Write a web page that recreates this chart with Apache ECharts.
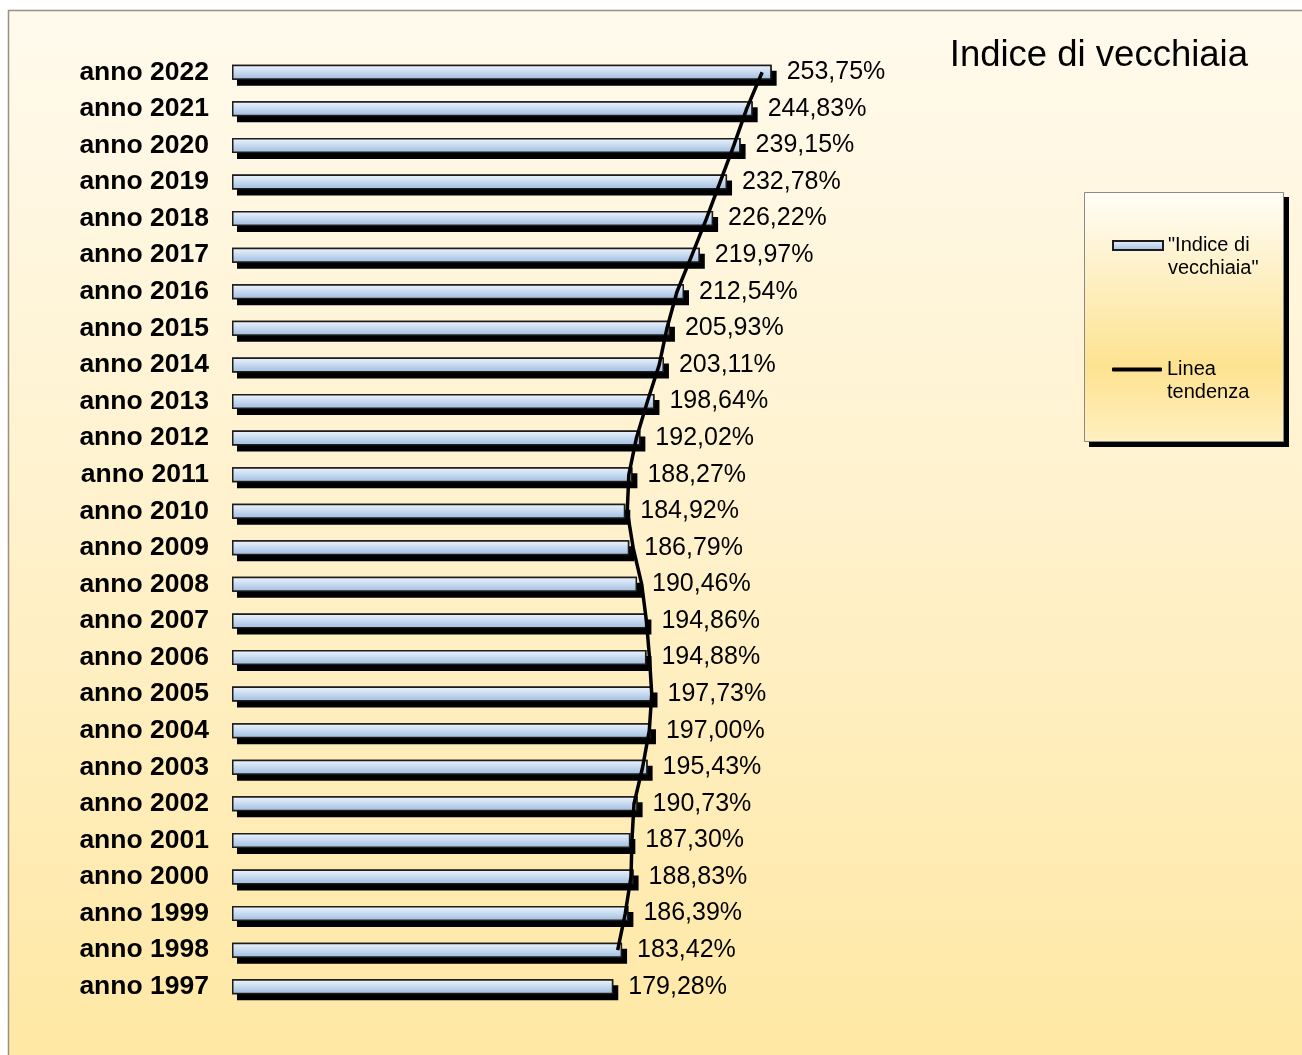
<!DOCTYPE html>
<html>
<head>
<meta charset="utf-8">
<script src="https://cdn.jsdelivr.net/npm/echarts@6/dist/echarts.min.js"></script>
<style>
  html, body { margin: 0; padding: 0; background: #fff; }
  #chart { width: 1302px; height: 1055px; }
</style>
</head>
<body>
<div id="chart"></div>
<script>
// anni, dal più vecchio (in basso) al più recente (in alto)
const anni = ['anno 1997', 'anno 1998', 'anno 1999', 'anno 2000', 'anno 2001', 'anno 2002',
  'anno 2003', 'anno 2004', 'anno 2005', 'anno 2006', 'anno 2007', 'anno 2008', 'anno 2009',
  'anno 2010', 'anno 2011', 'anno 2012', 'anno 2013', 'anno 2014', 'anno 2015', 'anno 2016',
  'anno 2017', 'anno 2018', 'anno 2019', 'anno 2020', 'anno 2021', 'anno 2022']

// indice di vecchiaia (%)
const indice = [179.28, 183.42, 186.39, 188.83, 187.30, 190.73,
  195.43, 197.00, 197.73, 194.88, 194.86, 190.46, 186.79,
  184.92, 188.27, 192.02, 198.64, 203.11, 205.93, 212.54,
  219.97, 226.22, 232.78, 239.15, 244.83, 253.75]

// linea tendenza (parte dal 1998)
const tendenza = [null, 181.35, 184.91, 187.61, 188.07, 189.02,
  193.08, 196.22, 197.37, 196.31, 194.87, 192.66, 188.63,
  185.86, 186.60, 190.15, 195.33, 200.88, 204.52, 209.24,
  216.26, 223.10, 229.50, 235.97, 241.99, 249.29]

const FONT = "'Liberation Sans', Arial, sans-serif"

const barFill = new echarts.graphic.LinearGradient(0, 0, 0, 1, [
  { offset: 0, color: '#f0f6fd' },
  { offset: 0.45, color: '#cadcf1' },
  { offset: 0.85, color: '#aac4e4' },
  { offset: 1, color: '#c4d8ee' }
])

const chartObj = echarts.init(document.getElementById('chart'))
const option = {
  animation: false,
  graphic: [
    { // sfondo area grafico
      type: 'rect', z: -10,
      shape: { x: 8.5, y: 10.5, width: 1300, height: 1050 },
      style: {
        fill: new echarts.graphic.LinearGradient(0, 0, 0, 1, [
          { offset: 0, color: '#fffaed' },
          { offset: 0.5, color: '#fff1cb' },
          { offset: 1, color: '#ffe8a4' }
        ]),
        stroke: '#9a9080', lineWidth: 1.5
      }
    },
    { // ombra legenda
      type: 'rect', z: -6,
      shape: { x: 1089, y: 197, width: 200, height: 250 },
      style: { fill: '#000' }
    },
    { // riquadro legenda
      type: 'rect', z: -5,
      shape: { x: 1084.5, y: 192.5, width: 199, height: 249 },
      style: {
        fill: new echarts.graphic.LinearGradient(0, 0, 0, 1, [
          { offset: 0, color: '#fffdf6' },
          { offset: 0.7, color: '#fde290' },
          { offset: 1, color: '#fff0c0' }
        ]),
        stroke: '#8a8a8a', lineWidth: 1
      }
    }
  ],
  title: {
    text: 'Indice di vecchiaia',
    right: 49, top: 32,
    textStyle: { fontFamily: FONT, fontSize: 36.5, fontWeight: 'normal', color: '#000' }
  },
  legend: [
    {
      data: ['"Indice di vecchiaia"'],
      left: 1107, top: 206,
      icon: 'rect', itemWidth: 50, itemHeight: 9,
      itemStyle: { color: barFill, borderColor: '#1c1c1c', borderWidth: 2 },
      formatter: function () { return '\n"Indice di\nvecchiaia"' },
      textStyle: { fontFamily: FONT, fontSize: 20, color: '#000', lineHeight: 23 }
    },
    {
      data: ['Linea tendenza'],
      left: 1107, top: 330,
      icon: 'roundRect', itemWidth: 50, itemHeight: 4,
      formatter: function () { return '\nLinea\ntendenza' },
      textStyle: { fontFamily: FONT, fontSize: 20, color: '#000', lineHeight: 23 }
    }
  ],
  grid: { left: 232, right: 432, top: 54, bottom: 50, containLabel: false },
  xAxis: { type: 'value', min: 0, max: 300, show: false },
  yAxis: {
    type: 'category',
    data: anni,
    axisLine: { show: false },
    axisTick: { show: false },
    axisLabel: { margin: 23, fontFamily: FONT, fontSize: 26.5, fontWeight: 'bold', color: '#000' }
  },
  series: [
    { // ombra nera delle barre
      name: 'ombra',
      type: 'bar',
      data: indice,
      barWidth: 15,
      barGap: '-100%',
      silent: true,
      itemStyle: {
        color: '#000',
        shadowColor: '#000', shadowBlur: 0, shadowOffsetX: 5, shadowOffsetY: 6
      },
      z: 1
    },
    {
      name: '"Indice di vecchiaia"',
      type: 'bar',
      data: indice,
      barWidth: 15,
      barGap: '-100%',
      itemStyle: { color: barFill, borderColor: '#1c1c1c', borderWidth: 1.5 },
      label: {
        show: true, position: 'right', distance: 15,
        fontFamily: FONT, fontSize: 25, color: '#000',
        formatter: function (p) { return p.value.toFixed(2).replace('.', ',') + '%' }
      },
      z: 2
    },
    {
      name: 'Linea tendenza',
      type: 'line',
      data: tendenza,
      showSymbol: false,
      symbol: 'none',
      lineStyle: { color: '#000', width: 3.5 },
      itemStyle: { color: '#000' },
      z: 5
    }
  ]
}
chartObj.setOption(option)
</script>
</body>
</html>
